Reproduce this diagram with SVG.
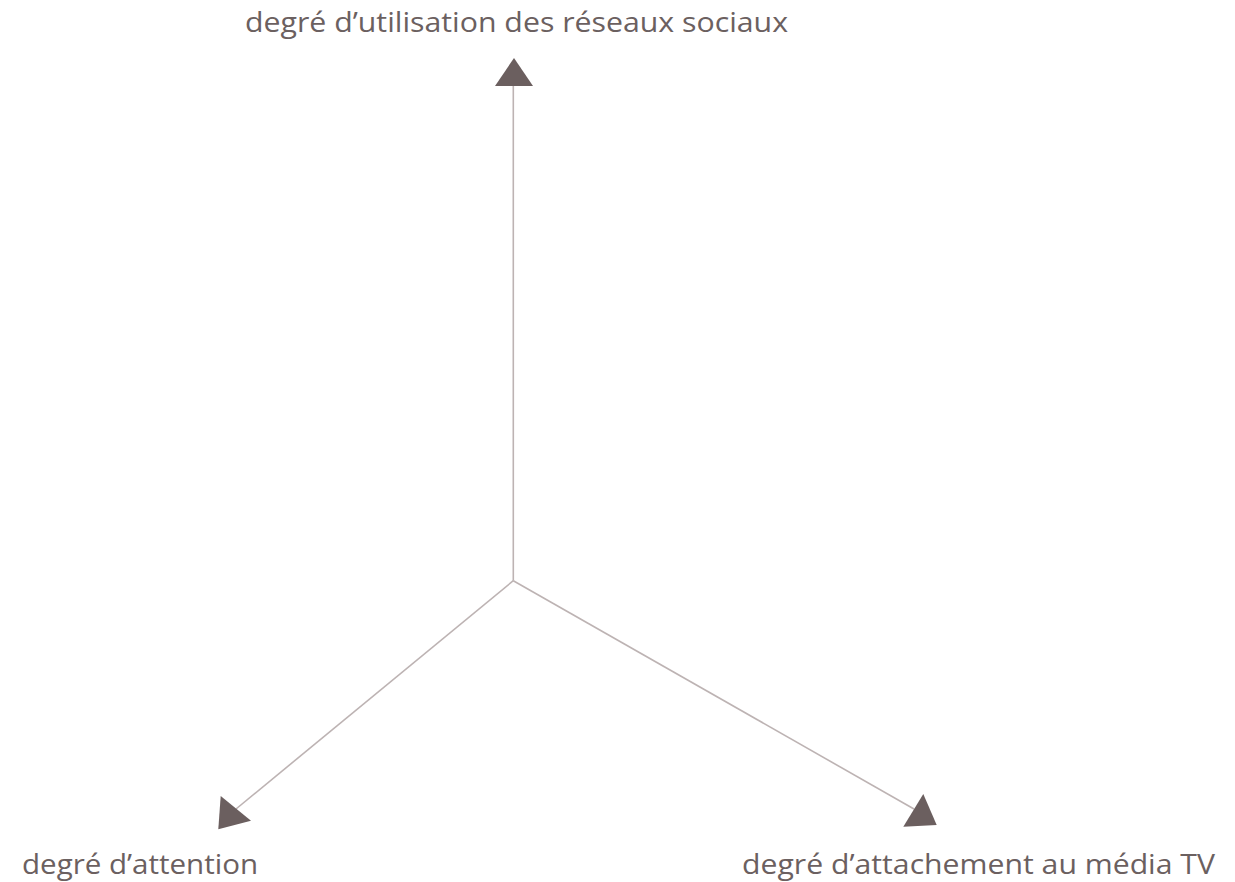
<svg xmlns="http://www.w3.org/2000/svg" width="1235" height="882" viewBox="0 0 1235 882">
  <style>
    .axis { stroke: #bdb3b3; stroke-width: 1.6; fill: none; }
    .head { fill: #6b5f5f; }
    .label { font-family: "Open Sans", "Noto Sans", sans-serif; font-size: 28px; fill: #6b6060; }
  </style>
  <rect width="1235" height="882" fill="#ffffff"/>
  <g id="connectors">
    <line class="axis" x1="513.3" y1="580.7" x2="513.3" y2="84"/>
    <line class="axis" x1="513.3" y1="580.7" x2="236" y2="809"/>
    <line class="axis" x1="513.3" y1="580.7" x2="914" y2="809"/>
    <polygon class="head" points="514,58 495,86 533,86"/>
    <polygon class="head" points="220.7,796 218.3,829.3 251,820.7"/>
    <polygon class="head" points="923.3,794 903.3,826.7 936.7,825"/>
  </g>
  <g id="node-social">
    <text class="label" x="245" y="32" textLength="543" lengthAdjust="spacingAndGlyphs">degré d’utilisation des réseaux sociaux</text>
  </g>
  <g id="node-attention">
    <text class="label" x="22" y="874" textLength="236" lengthAdjust="spacingAndGlyphs">degré d’attention</text>
  </g>
  <g id="node-tv">
    <text class="label" x="742" y="874" textLength="473" lengthAdjust="spacingAndGlyphs">degré d’attachement au média TV</text>
  </g>
</svg>
